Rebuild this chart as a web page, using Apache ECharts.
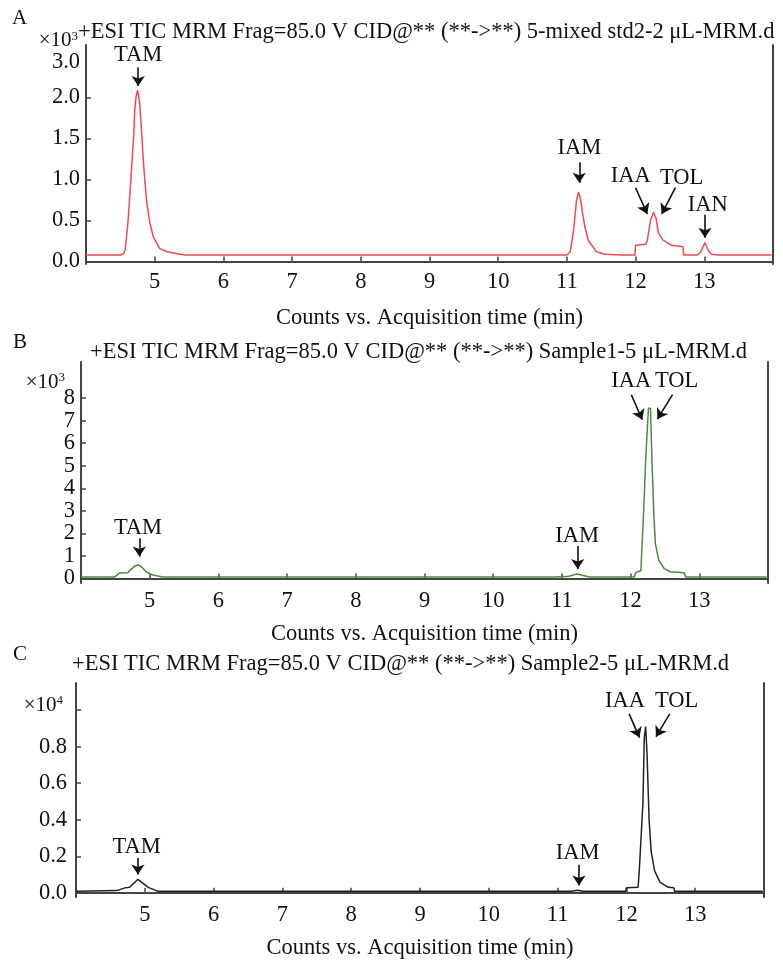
<!DOCTYPE html>
<html>
<head>
<meta charset="utf-8">
<script src="https://cdn.jsdelivr.net/npm/echarts@6/dist/echarts.min.js"></script>
<style>
  html, body { margin: 0; padding: 0; background: #fff; }
  #main { width: 783px; height: 961px; }
</style>
</head>
<body>
<div id="main"></div>
<script>
// x ticks shared by all three panels (min)
const xTicks = [5, 6, 7, 8, 9, 10, 11, 12, 13];
// y ticks per panel
const yTicksA = [0, 0.5, 1, 1.5, 2];
const yTicksB = [0, 1, 2, 3, 4, 5, 6, 7, 8];
const yTicksC = [0, 0.2, 0.4, 0.6, 0.8, 1.0];

// A: 5-mixed std2-2 uL (x10^3 counts)
const timeA = [4.0, 4.50, 4.55, 4.57, 4.61, 4.65, 4.69, 4.71, 4.73, 4.75, 4.78, 4.81, 4.84, 4.88, 4.93, 4.98, 5.07, 5.18, 5.37, 5.45,
  11.00, 11.05, 11.10, 11.14, 11.17, 11.20, 11.23, 11.26, 11.31, 11.43, 11.55, 11.80, 11.82, 11.86, 11.99,
  12.00, 12.15, 12.17, 12.22, 12.26, 12.30, 12.33, 12.40, 12.52, 12.69, 12.70, 12.90, 12.95, 13.01, 13.05, 13.10, 13.20, 13.98];
const countA = [0.08, 0.08, 0.10, 0.14, 0.47, 0.96, 1.48, 1.85, 2.02, 2.09, 1.95, 1.57, 1.16, 0.75, 0.47, 0.30, 0.16, 0.12, 0.09, 0.08,
  0.08, 0.12, 0.40, 0.75, 0.85, 0.75, 0.58, 0.43, 0.26, 0.12, 0.09, 0.08, 0.06, 0.08, 0.08,
  0.20, 0.21, 0.26, 0.51, 0.60, 0.52, 0.35, 0.26, 0.20, 0.18, 0.08, 0.08, 0.12, 0.23, 0.15, 0.09, 0.08, 0.08];

// B: Sample1-5 uL (x10^3 counts)
const timeB = [4.0, 4.49, 4.56, 4.68, 4.78, 4.83, 4.88, 4.95, 5.05, 5.19,
  10.90, 11.10, 11.22, 11.30, 11.40, 12.05, 12.08, 12.15, 12.19, 12.22, 12.26, 12.29, 12.31, 12.34, 12.36, 12.41, 12.49, 12.58, 12.78, 12.80, 13.98];
const countB = [0.07, 0.07, 0.24, 0.26, 0.55, 0.60, 0.52, 0.29, 0.15, 0.07,
  0.07, 0.10, 0.20, 0.14, 0.07, 0.07, 0.28, 0.34, 3.0, 5.3, 7.55, 7.55, 5.3, 2.7, 1.56, 0.81, 0.44, 0.30, 0.25, 0.07, 0.07];

// C: Sample2-5 uL (x10^4 counts)
const timeC = [4.0, 4.59, 4.71, 4.78, 4.90, 5.05, 5.19,
  11.20, 11.29, 11.37, 11.99, 12.00, 12.17, 12.19, 12.24, 12.26, 12.28, 12.30, 12.33, 12.36, 12.41, 12.49, 12.61, 12.69, 12.70, 13.98];
const countC = [0.008, 0.012, 0.027, 0.030, 0.074, 0.030, 0.008,
  0.008, 0.014, 0.008, 0.008, 0.027, 0.03, 0.14, 0.49, 0.85, 0.91, 0.76, 0.40, 0.225, 0.12, 0.057, 0.030, 0.027, 0.008, 0.008];

// peak names and arrows, in data coordinates: [name, x, y] / [x1, y1, x2, y2]
const namesA = [['TAM', 4.76, 2.52], ['IAM', 11.18, 1.38], ['IAA', 11.93, 1.04], ['TOL', 12.67, 1.02], ['IAN', 13.05, 0.69]];
const arrowsA = [[4.76, 2.37, 4.76, 2.14], [11.18, 1.21, 11.18, 0.96], [12.0, 0.90, 12.17, 0.58], [12.58, 0.90, 12.38, 0.58], [13.01, 0.57, 13.01, 0.29]];
const namesB = [['TAM', 4.83, 2.22], ['IAM', 11.22, 1.88], ['IAA', 12.01, 8.74], ['TOL', 12.67, 8.74]];
const arrowsB = [[4.85, 1.78, 4.85, 0.98], [11.23, 1.44, 11.23, 0.42], [12.01, 8.15, 12.17, 7.04], [12.61, 8.15, 12.39, 7.07]];
const namesC = [['TAM', 4.88, 0.25], ['IAM', 11.29, 0.22], ['IAA', 11.98, 1.05], ['TOL', 12.73, 1.05]];
const arrowsC = [[4.90, 0.19, 4.90, 0.10], [11.31, 0.154, 11.31, 0.04], [12.04, 0.98, 12.19, 0.85], [12.63, 0.98, 12.43, 0.855]];

const font = 'Liberation Serif';
const fs = 22.5;
const ink = '#111';
const axisColor = '#444';

const myChart = echarts.init(document.getElementById('main'));

const grids = [
  { left: 86, right: 10, top: 45, height: 219 },
  { left: 81, right: 15, top: 362, height: 221 },
  { left: 76, right: 19, top: 683, height: 220 }
];

function zip (t, v) {
  return t.map((x, i) => [x, v[i]]);
}

function xAxisFor (i) {
  return {
    type: 'value', gridIndex: i, min: 4, max: 14,
    name: 'Counts vs. Acquisition time (min)',
    nameLocation: 'middle',
    nameGap: i === 0 ? 43 : 40,
    nameTextStyle: { fontFamily: font, fontSize: fs, color: ink },
    axisLine: { show: true, lineStyle: { color: axisColor, width: 2 } },
    axisTick: { show: true, inside: true, length: 5, customValues: xTicks, lineStyle: { color: axisColor, width: 1.5 } },
    axisLabel: { customValues: xTicks, margin: 7, fontFamily: font, fontSize: fs, color: ink },
    splitLine: { show: false }
  };
}

function borderAxis (i, min, max) {
  // right frame line
  return {
    type: 'value', gridIndex: i, position: 'right', min: min, max: max,
    axisLine: { show: true, lineStyle: { color: axisColor, width: 2 } },
    axisTick: { show: false }, axisLabel: { show: false }, splitLine: { show: false }
  };
}

function annotate (names, arrows) {
  return {
    markPoint: {
      silent: true,
      symbol: 'rect', symbolSize: 1,
      itemStyle: { color: 'rgba(0,0,0,0)' },
      label: { show: true, position: 'inside', formatter: '{b}', fontFamily: font, fontSize: fs, color: ink },
      data: names.map(n => ({ name: n[0], coord: [n[1], n[2]] }))
    },
    markLine: {
      silent: true,
      symbol: ['none', 'arrow'], symbolSize: 10,
      label: { show: false },
      lineStyle: { color: ink, width: 1.6, type: 'solid' },
      data: arrows.map(a => [{ coord: [a[0], a[1]] }, { coord: [a[2], a[3]] }])
    }
  };
}

const sup = { fontFamily: font, fontSize: 13, color: ink, verticalAlign: 'top', padding: [0, 0, 8, 0] };
const base = { fontFamily: font, fontSize: 21, color: ink };
const titleStyle = { fontFamily: font, fontSize: fs, fontWeight: 'normal', color: ink };
const letterStyle = { fontFamily: font, fontSize: 21, fontWeight: 'normal', color: ink };

let option = {
  animation: false,
  title: [
    { text: 'A', left: 12, top: 8, padding: 0, textStyle: letterStyle },
    { text: '+ESI TIC MRM Frag=85.0 V CID@** (**->**) 5-mixed std2-2 μL-MRM.d', left: 78, top: 21, padding: 0, textStyle: titleStyle },
    { text: 'B', left: 13, top: 332, padding: 0, textStyle: letterStyle },
    { text: '+ESI TIC MRM Frag=85.0 V CID@** (**->**) Sample1-5 μL-MRM.d', left: 90, top: 341, padding: 0, textStyle: titleStyle },
    { text: 'C', left: 13, top: 644, padding: 0, textStyle: letterStyle },
    { text: '+ESI TIC MRM Frag=85.0 V CID@** (**->**) Sample2-5 μL-MRM.d', left: 72, top: 653, padding: 0, textStyle: titleStyle }
  ],
  grid: grids,
  xAxis: [xAxisFor(0), xAxisFor(1), xAxisFor(2)],
  yAxis: [
    {
      type: 'value', gridIndex: 0, min: -0.03, max: 2.64,
      name: '×10{s|3}', nameLocation: 'end', nameGap: 2,
      nameTextStyle: { align: 'right', verticalAlign: 'middle', padding: [0, 8, 0, 0], rich: { s: sup }, ...base },
      axisLine: { show: true, lineStyle: { color: axisColor, width: 2 } },
      axisTick: { show: true, inside: true, length: 5, customValues: yTicksA, lineStyle: { color: axisColor, width: 1.5 } },
      axisLabel: {
        customValues: [...yTicksA, 2.43], margin: 6, fontFamily: font, fontSize: fs, color: ink,
        showMinLabel: true, showMaxLabel: true,
        formatter: v => (v > 2.2 ? '3.0' : v.toFixed(1))
      },
      splitLine: { show: false }
    },
    {
      // B: odd labels on this axis, even ones on the overlay axis below (tight spacing)
      type: 'value', gridIndex: 1, min: -0.2, max: 9.6,
      name: '×10{s|3}', nameLocation: 'end', nameGap: -20,
      nameTextStyle: { align: 'right', verticalAlign: 'middle', padding: [0, 16, 0, 0], rich: { s: sup }, ...base },
      axisLine: { show: true, lineStyle: { color: axisColor, width: 2 } },
      axisTick: { show: true, inside: true, length: 5, customValues: yTicksB, lineStyle: { color: axisColor, width: 1.5 } },
      axisLabel: {
        customValues: yTicksB.filter(v => v % 2 === 1), margin: 6, fontFamily: font, fontSize: fs, color: ink
      },
      splitLine: { show: false }
    },
    {
      type: 'value', gridIndex: 2, min: -0.023, max: 1.149,
      name: '×10{s|4}', nameLocation: 'end', nameGap: -22,
      nameTextStyle: { align: 'right', verticalAlign: 'middle', padding: [0, 13, 0, 0], rich: { s: sup }, ...base },
      axisLine: { show: true, lineStyle: { color: axisColor, width: 2 } },
      axisTick: { show: true, inside: true, length: 5, customValues: yTicksC, lineStyle: { color: axisColor, width: 1.5 } },
      axisLabel: {
        customValues: yTicksC.slice(0, 5), margin: 9, fontFamily: font, fontSize: fs, color: ink,
        showMinLabel: true, showMaxLabel: true, formatter: v => v.toFixed(1)
      },
      splitLine: { show: false }
    },
    borderAxis(0, -0.03, 2.64),
    borderAxis(1, -0.2, 9.6),
    borderAxis(2, -0.023, 1.149),
    {
      type: 'value', gridIndex: 1, position: 'left', offset: 0, min: -0.2, max: 9.6,
      axisLine: { show: false }, axisTick: { show: false }, splitLine: { show: false },
      axisLabel: {
        customValues: yTicksB.filter(v => v % 2 === 0), margin: 6, fontFamily: font, fontSize: fs, color: ink,
        showMinLabel: true, showMaxLabel: true
      }
    }
  ],
  series: [
    {
      type: 'line', xAxisIndex: 0, yAxisIndex: 0, data: zip(timeA, countA),
      showSymbol: false, lineStyle: { color: '#f04a4a', width: 1.5 }, itemStyle: { color: '#f04a4a' },
      ...annotate(namesA, arrowsA)
    },
    {
      type: 'line', xAxisIndex: 1, yAxisIndex: 1, data: zip(timeB, countB),
      showSymbol: false, lineStyle: { color: '#4b8a3e', width: 1.5 }, itemStyle: { color: '#4b8a3e' },
      ...annotate(namesB, arrowsB)
    },
    {
      type: 'line', xAxisIndex: 2, yAxisIndex: 2, data: zip(timeC, countC),
      showSymbol: false, lineStyle: { color: '#222', width: 1.5 }, itemStyle: { color: '#222' },
      ...annotate(namesC, arrowsC)
    }
  ]
};

myChart.setOption(option);
</script>
</body>
</html>
